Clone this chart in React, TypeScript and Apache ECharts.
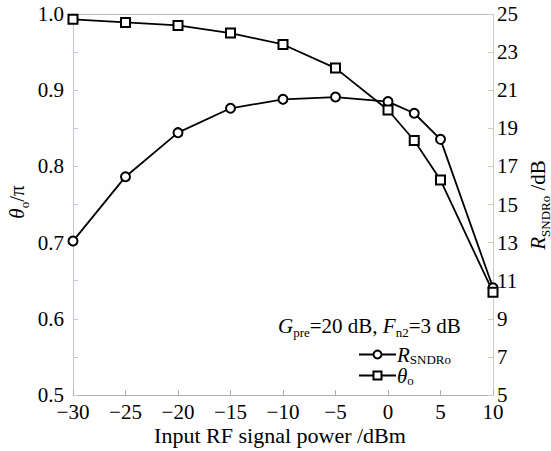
import React, { useEffect, useRef } from "react";
import * as echarts from "echarts";

const inputPower = [-30, -25, -20, -15, -10, -5, 0, 2.5, 5, 10];
const thetaValues = [0.993, 0.989, 0.985, 0.975, 0.96, 0.929, 0.874, 0.834, 0.782, 0.635];
const rsndrValues = [13.08, 16.46, 18.77, 20.05, 20.52, 20.64, 20.4, 19.79, 18.42, 10.63];
const xTicks = [-30, -25, -20, -15, -10, -5, 0, 5, 10];
const leftLabels = [0.5, 0.6, 0.7, 0.8, 0.9, 1.0];
const leftTicks = [0.5, 0.55, 0.6, 0.65, 0.7, 0.75, 0.8, 0.85, 0.9, 0.95, 1.0];
const rightTicks = [5, 7, 9, 11, 13, 15, 17, 19, 21, 23, 25];

const FONT = "Liberation Serif";

export default function App() {
  const ref = useRef<HTMLDivElement>(null);
  useEffect(() => {
    if (!ref.current) return;
    const chart = echarts.init(ref.current, undefined, { renderer: "svg" });
    const rich = {
      i: { fontFamily: FONT, fontSize: 21, fontStyle: "italic", color: "#000" },
      n: { fontFamily: FONT, fontSize: 21, color: "#000" },
      s: { fontFamily: FONT, fontSize: 13, color: "#000", padding: [14, 0, 0, 0] },
    };
    const legendRich = {
      i: { fontFamily: FONT, fontSize: 21, fontStyle: "italic", color: "#000" },
      s: { fontFamily: FONT, fontSize: 13, color: "#000", padding: [10, 0, 0, 0] },
    };
    const legendCommon = {
      orient: "vertical",
      left: 358,
      itemWidth: 37,
      itemHeight: 10,
      itemGap: 0,
      padding: 0,
      formatter: (name: string) =>
        name === "RSNDRo" ? "{i|R}{s|SNDRo}" : "{i|θ}{s|o}",
      textStyle: { rich: legendRich, padding: [0, 0, 0, -4] },
    };
    const option: any = {
      animation: false,
      backgroundColor: "#fefefe",
      textStyle: { fontFamily: FONT },
      grid: { left: 73, right: 58, top: 14, bottom: 56 },
      xAxis: {
        type: "value",
        min: -30,
        max: 10,
        interval: 5,
        axisLine: { show: true, onZero: false, lineStyle: { color: "#b0b0b0", width: 1 } },
        axisTick: { inside: true, length: 5, lineStyle: { color: "#b0b0b0" }, customValues: xTicks },
        axisLabel: {
          customValues: xTicks,
          margin: 6,
          fontFamily: FONT,
          fontSize: 21,
          color: "#000",
          formatter: (v: number) => String(v).replace("-", "\u2212"),
        },
        splitLine: { show: false },
      },
      yAxis: [
        {
          type: "value",
          min: 0.5,
          max: 1.0,
          position: "left",
          axisLine: { show: true, onZero: false, lineStyle: { color: "#c4c6e2", width: 1 } },
          axisTick: { inside: true, length: 5, lineStyle: { color: "#c4c6e2" }, customValues: leftTicks },
          axisLabel: {
            customValues: leftLabels,
            margin: 9,
            fontFamily: FONT,
            fontSize: 21,
            color: "#000",
            formatter: (v: number) => v.toFixed(1),
          },
          splitLine: { show: false },
        },
        {
          type: "value",
          min: 5,
          max: 25,
          position: "right",
          axisLine: { show: true, onZero: false, lineStyle: { color: "#c8cec0", width: 1 } },
          axisTick: { inside: true, length: 5, lineStyle: { color: "#c8cec0" }, customValues: rightTicks },
          axisLabel: {
            customValues: rightTicks,
            margin: 4,
            fontFamily: FONT,
            fontSize: 21,
            color: "#000",
          },
          splitLine: { show: false },
        },
      ],
      legend: [
        { ...legendCommon, top: 344, data: ["RSNDRo"] },
        { ...legendCommon, top: 365, data: ["θo"] },
      ],
      graphic: [
        {
          type: "line",
          shape: { x1: 73, y1: 14.5, x2: 493, y2: 14.5 },
          style: { stroke: "#b8b8b8", lineWidth: 1 },
        },
        {
          type: "text",
          x: 278,
          y: 312,
          style: {
            text: "{i|G}{s|pre}{n|=20 dB, }{i|F}{s|n2}{n|=3 dB}",
            rich,
          },
        },
        {
          type: "text",
          x: 280,
          y: 435,
          style: {
            text: "Input RF signal power /dBm",
            fontFamily: FONT,
            fontSize: 22,
            fill: "#000",
            align: "center",
            verticalAlign: "middle",
          },
        },
        {
          type: "text",
          x: 17,
          y: 202,
          rotation: Math.PI / 2,
          style: {
            text: "{i|θ}{s|o}{n|/π}",
            rich,
            align: "center",
            verticalAlign: "middle",
          },
        },
        {
          type: "text",
          x: 538,
          y: 205,
          rotation: Math.PI / 2,
          style: {
            text: "{i|R}{s|SNDRo}{n| /dB}",
            rich,
            align: "center",
            verticalAlign: "middle",
          },
        },
      ],
      series: [
        {
          name: "RSNDRo",
          type: "line",
          yAxisIndex: 1,
          data: inputPower.map((x, k) => [x, rsndrValues[k]]),
          symbol: "emptyCircle",
          symbolSize: 9,
          color: "#000",
          lineStyle: { width: 1.8, color: "#000" },
          itemStyle: { borderWidth: 1.6, color: "#000" },
        },
        {
          name: "θo",
          type: "line",
          yAxisIndex: 0,
          data: inputPower.map((x, k) => [x, thetaValues[k]]),
          symbol: "emptyRect",
          symbolSize: 9,
          color: "#000",
          lineStyle: { width: 1.8, color: "#000" },
          itemStyle: { borderWidth: 1.6, color: "#000" },
        },
      ],
    };
    chart.setOption(option);
    return () => chart.dispose();
  }, []);
  return <div ref={ref} style={{ width: 551, height: 451, position: "absolute", left: 0, top: 0 }} />;
}
